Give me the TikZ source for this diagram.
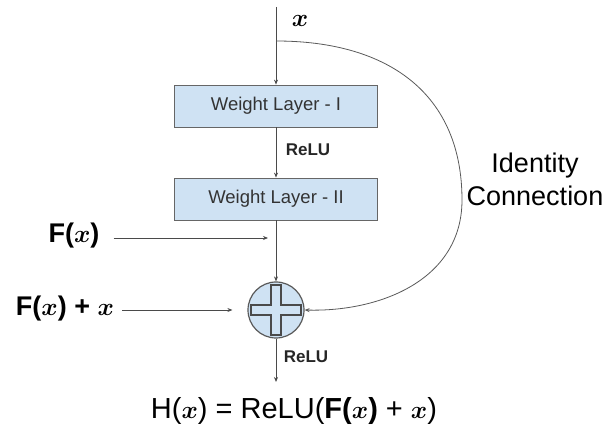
\documentclass[tikz,border=0pt]{standalone}
\usepackage{amsmath}
\usepackage{bm}
\usepackage{fontspec}
\setmainfont{Liberation Sans}
\usetikzlibrary{arrows.meta}
\definecolor{layerblue}{HTML}{CFE2F3}
\definecolor{linegray}{HTML}{4A4A4A}
\newcommand{\bx}{$\bm{x}$}

\begin{document}
\begin{tikzpicture}[x=1pt, y=-1pt,
  conn/.style={draw=linegray, line width=0.8pt, -{Stealth[length=5pt,width=4pt]}},
  layer/.style={draw=gray!80!black, line width=0.8pt, fill=layerblue, minimum width=203pt, minimum height=42pt, inner sep=0pt, text=black!80, font=\fontsize{18.5}{20}\selectfont},
  relu/.style={font=\bfseries\fontsize{17}{19}\selectfont, text=black!85},
  lab/.style={font=\bfseries\fontsize{27}{30}\selectfont, inner sep=2pt}]
\useasboundingbox (0,0) rectangle (608,427);
\coordinate (top) at (276,7);
\coordinate (split) at (276,41);
\node[font=\fontsize{26}{28}\selectfont] (xin) at (300,21) {\bx};
\node[layer] (wl1) at (276,106) {Weight Layer - I};
\node[relu] (r1) at (308,150) {ReLU};
\node[layer] (wl2) at (276,199) {Weight Layer - II};
\node[circle, draw=gray!70!black, line width=1.2pt, fill=layerblue, minimum size=56pt, inner sep=0pt] (add) at (276,310) {};
\draw[linegray, line width=1.3pt] (add.center) ++(-5,-25) -- ++(10,0) -- ++(0,20) -- ++(20,0) -- ++(0,10) -- ++(-20,0) -- ++(0,20) -- ++(-10,0) -- ++(0,-20) -- ++(-20,0) -- ++(0,-10) -- ++(20,0) -- cycle;
\node[lab] (fx) at (74,236) {F(\bx)};
\coordinate (fxend) at (268,238);
\node[lab] (fxx) at (65,309) {F(\bx) + \bx};
\node[relu] (r2) at (306,357) {ReLU};
\coordinate (outend) at (276,382);
\node[font=\fontsize{29}{31}\selectfont] (hx) at (294,411) {H(\bx) = ReLU(\textbf{F(}\bx\textbf{)} + \bx)};
\node[font=\fontsize{27}{33}\selectfont, align=center] (idc) at (535,179) {Identity\\Connection};
\draw[conn] (top) -- (wl1);
\draw[conn] (wl1) -- (wl2);
\draw[conn] (wl2) -- (add);
\draw[conn] (add) -- (outend);
\draw[conn, shorten <=12pt] (fx.east |- fxend) -- (fxend);
\draw[conn, shorten <=6pt, shorten >=15pt] (fxx.east |- add) -- (add.west);
\draw[conn, draw=gray!70!black] (split) .. controls (390,41) and (462,95) .. (462,200) .. controls (462,280) and (380,312) .. (add.east);
\end{tikzpicture}
\end{document}
